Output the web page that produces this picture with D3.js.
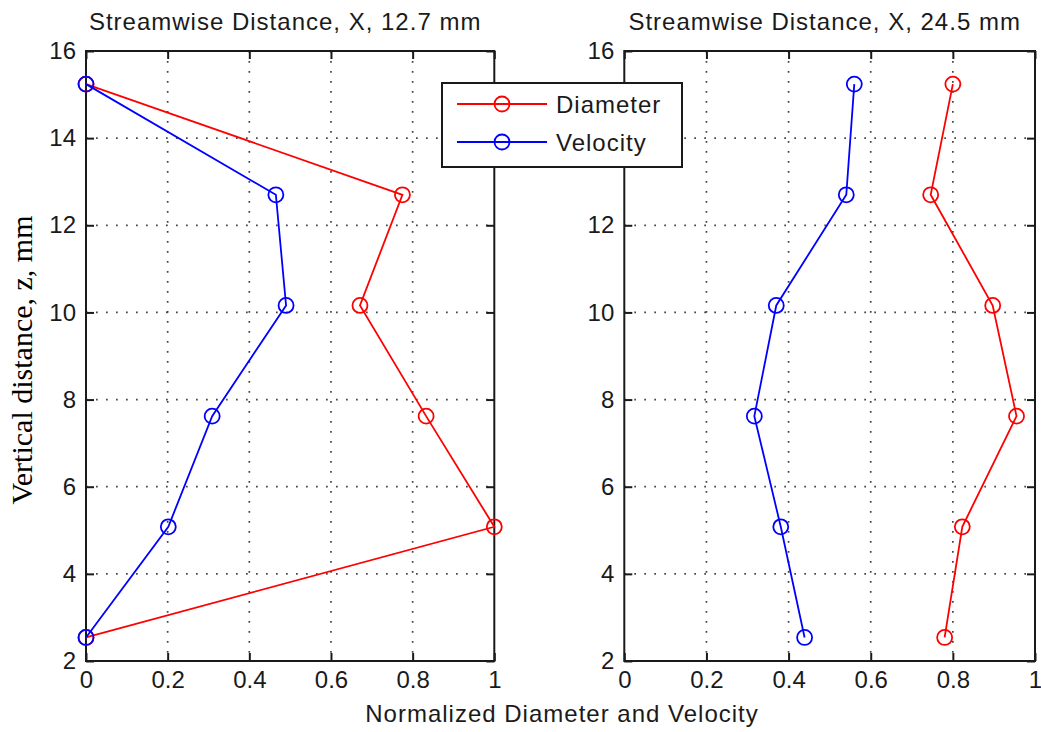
<!DOCTYPE html>
<html>
<head>
<meta charset="utf-8">
<script src="https://cdn.jsdelivr.net/npm/d3@7"></script>
<style>
  html, body { margin: 0; padding: 0; background: #fff; }
  svg { display: block; }
  .sans { font-family: "Liberation Sans", Arial, sans-serif; fill: #1a1a1a; }
</style>
</head>
<body>
<svg id="chart" width="1041" height="732"></svg>
<script>
// Vertical measurement stations (mm)
const heights = [2.54, 5.08, 7.62, 10.16, 12.7, 15.24];

// Panel 1: X = 12.7 mm
const diameterNear = [0, 1.0, 0.833, 0.671, 0.775, 0];
const velocityNear = [0, 0.2016, 0.309, 0.49, 0.465, 0];

// Panel 2: X = 24.5 mm
const diameterFar = [0.780, 0.823, 0.955, 0.897, 0.746, 0.80];
const velocityFar = [0.439, 0.381, 0.3166, 0.370, 0.5405, 0.560];

const panelTitles = ["Streamwise Distance, X, 12.7 mm", "Streamwise Distance, X, 24.5 mm"];
const xTicks = [0, 0.2, 0.4, 0.6, 0.8, 1];
const yTicks = [2, 4, 6, 8, 10, 12, 14, 16];
const seriesNames = ["Diameter", "Velocity"];
const seriesColors = ["#ff0000", "#0000ff"];

const svg = d3.select("#chart");

const plotTop = 51, plotBottom = 661;
const legendBox = { x: 442, y: 83, w: 240, h: 84 };
const panels = [
  { left: 86, right: 494.3, title: panelTitles[0], series: [diameterNear, velocityNear] },
  { left: 624.3, right: 1035, title: panelTitles[1], series: [diameterFar, velocityFar] }
];

const y = d3.scaleLinear().domain([2, 16]).range([plotBottom, plotTop]);
const fmt = d => d3.format("~g")(d);

panels.forEach(p => {
  const x = d3.scaleLinear().domain([0, 1]).range([p.left, p.right]);
  const g = svg.append("g");

  // dotted grid at interior ticks
  const grid = g.append("g")
    .attr("stroke", "#444").attr("stroke-width", 1.7)
    .attr("stroke-dasharray", "1.7,8.3");
  grid.selectAll(".gx").data(xTicks.slice(1, -1)).join("line")
    .attr("x1", d => x(d)).attr("x2", d => x(d))
    .attr("y1", plotTop).attr("y2", plotBottom);
  grid.selectAll(".gy").data(yTicks.slice(1, -1)).join("line")
    .attr("x1", p.left).attr("x2", p.right)
    .attr("y1", d => y(d)).attr("y2", d => y(d));

  // axes with inward ticks on all four sides
  const styleAxis = sel => {
    sel.select(".domain").remove();
    sel.selectAll(".tick line").attr("stroke", "#1a1a1a").attr("stroke-width", 2);
    sel.selectAll(".tick text")
      .attr("font-family", "Liberation Sans, Arial, sans-serif")
      .attr("font-size", 24)
      .attr("fill", "#1a1a1a");
  };
  g.append("g").attr("transform", `translate(0,${plotBottom})`)
    .call(d3.axisBottom(x).tickValues(xTicks).tickFormat(fmt).tickSizeInner(-8).tickSizeOuter(0).tickPadding(10))
    .call(styleAxis);
  g.append("g").attr("transform", `translate(0,${plotTop})`)
    .call(d3.axisTop(x).tickValues(xTicks).tickFormat("").tickSizeInner(-8).tickSizeOuter(0))
    .call(styleAxis);
  const yAxisG = g.append("g").attr("transform", `translate(${p.left},0)`)
    .call(d3.axisLeft(y).tickValues(yTicks).tickFormat(fmt).tickSizeInner(-8).tickSizeOuter(0).tickPadding(10))
    .call(styleAxis);
  g.append("g").attr("transform", `translate(${p.right},0)`)
    .call(d3.axisRight(y).tickValues(yTicks).tickFormat("").tickSizeInner(-8).tickSizeOuter(0))
    .call(styleAxis);

  // tick labels sitting under the legend box are covered by it: leave them out
  yAxisG.selectAll(".tick text").each(function () {
    const b = this.getBoundingClientRect();
    const covered = b.right > legendBox.x && b.left < legendBox.x + legendBox.w &&
                    b.bottom > legendBox.y && b.top < legendBox.y + legendBox.h;
    if (covered) d3.select(this).remove();
  });

  // frame
  g.append("rect")
    .attr("x", p.left).attr("y", plotTop)
    .attr("width", p.right - p.left).attr("height", plotBottom - plotTop)
    .attr("fill", "none").attr("stroke", "#1a1a1a").attr("stroke-width", 2);

  // title
  g.append("text").attr("class", "sans")
    .attr("x", (p.left + p.right) / 2 - 5).attr("y", 30)
    .attr("text-anchor", "middle")
    .style("font-size", "24px").style("letter-spacing", "1px")
    .text(p.title);

  // series lines with circle markers
  p.series.forEach((vals, i) => {
    const pts = vals.map((v, k) => [x(v), y(heights[k])]);
    g.append("path")
      .attr("d", d3.line()(pts))
      .attr("fill", "none").attr("stroke", seriesColors[i]).attr("stroke-width", 1.8);
    g.selectAll(null).data(pts).join("circle")
      .attr("cx", d => d[0]).attr("cy", d => d[1]).attr("r", 7.5)
      .attr("fill", "none").attr("stroke", seriesColors[i]).attr("stroke-width", 1.8);
  });
});

// shared axis labels
svg.append("text").attr("class", "sans")
  .attr("x", 562).attr("y", 722)
  .attr("text-anchor", "middle")
  .style("font-size", "24px").style("letter-spacing", "1px")
  .text("Normalized Diameter and Velocity");

svg.append("text")
  .attr("transform", "translate(32,360) rotate(-90)")
  .attr("text-anchor", "middle")
  .attr("font-family", "Liberation Serif, Times New Roman, serif")
  .attr("font-size", 30)
  .attr("fill", "#000")
  .text("Vertical distance, z, mm");

// legend
const lg = svg.append("g");
lg.append("rect")
  .attr("x", legendBox.x).attr("y", legendBox.y).attr("width", legendBox.w).attr("height", legendBox.h)
  .attr("fill", "#fff").attr("stroke", "#1a1a1a").attr("stroke-width", 2);
seriesNames.forEach((name, i) => {
  const ry = 104 + i * 38;
  lg.append("line")
    .attr("x1", 457).attr("x2", 547).attr("y1", ry).attr("y2", ry)
    .attr("stroke", seriesColors[i]).attr("stroke-width", 1.8);
  lg.append("circle")
    .attr("cx", 502).attr("cy", ry).attr("r", 7.5)
    .attr("fill", "none").attr("stroke", seriesColors[i]).attr("stroke-width", 1.8);
  lg.append("text").attr("class", "sans")
    .attr("x", 556).attr("y", ry).attr("dy", "0.36em")
    .style("font-size", "24px").style("letter-spacing", "1px")
    .text(name);
});
</script>
</body>
</html>
